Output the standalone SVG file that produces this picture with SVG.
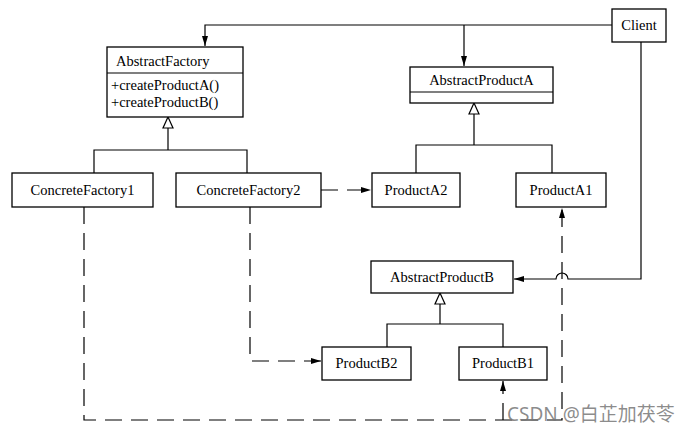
<svg xmlns="http://www.w3.org/2000/svg" width="693" height="433" viewBox="0 0 693 433">
<style>
.box{fill:#fff;stroke:#000;stroke-width:1.3}
.t{font-family:"Liberation Serif","Times New Roman",serif;font-size:14.5px;fill:#000}
.m{text-anchor:middle}
.ln{fill:none;stroke:#000;stroke-width:1.2}
.ds{fill:none;stroke:#000;stroke-width:1.2;stroke-dasharray:17 9}
.tri{fill:#fff;stroke:#000;stroke-width:1.2}
</style>
<defs>
<marker id="ar" viewBox="0 0 10 6" refX="10" refY="3" markerWidth="10" markerHeight="6" markerUnits="userSpaceOnUse" orient="auto">
<path d="M0,0 L10,3 L0,6 Z" fill="#000"/>
</marker>
</defs>
<rect width="693" height="433" fill="#fff"/>
<g id="connectors">
<path class="ln" d="M612,25 H205 V46" marker-end="url(#ar)"/>
<path class="ln" d="M464,25 V66" marker-end="url(#ar)"/>
<path class="ln" d="M641,42 V279 H568 A6,6 0 0 0 556,279 H514" marker-end="url(#ar)"/>
<path class="ln" d="M168,128 V150 M94,173 V150 H247 V173"/>
<path class="ln" d="M474,114 V145 M416,173 V145 H552 V173"/>
<path class="ln" d="M440,303 V324 M387,347 V324 H503 V347"/>
<path class="tri" d="M168,117 L173,128 L163,128 Z"/>
<path class="tri" d="M474,103 L479,114 L469,114 Z"/>
<path class="tri" d="M440,293 L445,304 L435,304 Z"/>
<path class="ds" d="M321,190 H371" marker-end="url(#ar)"/>
<path class="ds" d="M250,207 V361 H321" marker-end="url(#ar)"/>
<path class="ds" d="M84,207 V420 H562 V208" marker-end="url(#ar)"/>
<path class="ds" d="M503,420 V381" marker-end="url(#ar)"/>
</g>
<g id="Client">
<rect class="box" x="612" y="9" width="54" height="33"/>
<text class="t m" x="639" y="30">Client</text>
</g>
<g id="AbstractFactory">
<rect class="box" x="107" y="47" width="136" height="70"/>
<line class="ln" x1="107" y1="73" x2="243" y2="73"/>
<text class="t" x="116" y="66">AbstractFactory</text>
<text class="t" x="111" y="90">+createProductA()</text>
<text class="t" x="111" y="107">+createProductB()</text>
</g>
<g id="AbstractProductA">
<rect class="box" x="410" y="67" width="143" height="36"/>
<line class="ln" x1="410" y1="92" x2="553" y2="92"/>
<text class="t m" x="481.5" y="85">AbstractProductA</text>
</g>
<g id="ConcreteFactory1">
<rect class="box" x="12" y="173" width="141" height="34"/>
<text class="t m" x="82.5" y="195">ConcreteFactory1</text>
</g>
<g id="ConcreteFactory2">
<rect class="box" x="176" y="173" width="145" height="34"/>
<text class="t m" x="248.5" y="195">ConcreteFactory2</text>
</g>
<g id="ProductA2">
<rect class="box" x="372" y="173" width="88" height="34"/>
<text class="t m" x="416" y="195">ProductA2</text>
</g>
<g id="ProductA1">
<rect class="box" x="516" y="173" width="90" height="34"/>
<text class="t m" x="561" y="195">ProductA1</text>
</g>
<g id="AbstractProductB">
<rect class="box" x="371" y="261" width="142" height="32"/>
<text class="t m" x="442" y="282">AbstractProductB</text>
</g>
<g id="ProductB2">
<rect class="box" x="322" y="347" width="89" height="33"/>
<text class="t m" x="366.5" y="368">ProductB2</text>
</g>
<g id="ProductB1">
<rect class="box" x="459" y="347" width="88" height="33"/>
<text class="t m" x="503" y="368">ProductB1</text>
</g>
<text x="507" y="421" font-family="'Noto Sans','Noto Sans CJK SC',sans-serif" font-size="19" fill="#777" fill-opacity="0.85">CSDN @白芷加茯苓</text>
</svg>
